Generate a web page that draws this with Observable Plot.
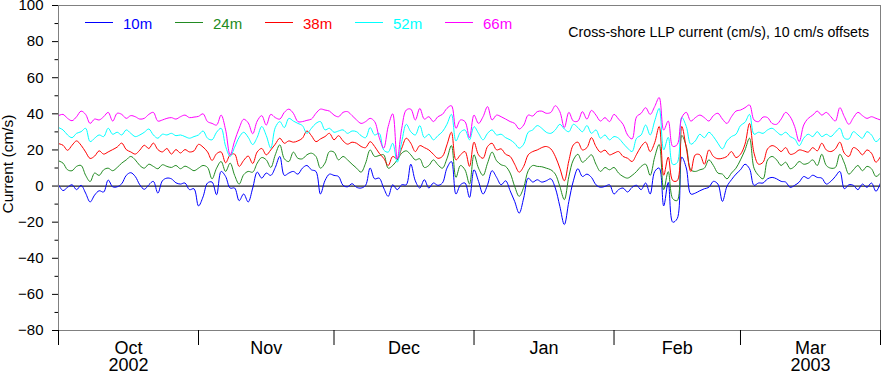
<!DOCTYPE html>
<html>
<head>
<meta charset="utf-8">
<script src="https://cdn.jsdelivr.net/npm/d3@7"></script>
<script src="https://cdn.jsdelivr.net/npm/@observablehq/plot@0.6"></script>
<style>
  body { margin: 0; background: #fff; }
  #chart { position: relative; width: 881px; height: 373px; font-family: "Liberation Sans", Arial, Helvetica, sans-serif; }
  #chart svg { display: block; }
  .overlay { position: absolute; white-space: nowrap; }
</style>
</head>
<body>
<div id="chart"></div>
<script>
// Series (depths) and colours
const depths = ["10m", "24m", "38m", "52m", "66m"];
const colors = ["#0000ff", "#228b22", "#ff0000", "#00ffff", "#ff00ff"];
const title = "Cross-shore LLP current (cm/s), 10 cm/s offsets";
const yLabel = "Current (cm/s)";

// Daily samples starting 1 Oct 2002 (values as plotted, i.e. with the 10 cm/s offsets)
const startDay = "2002-10-01";
const monthStarts = ["2002-10-01", "2002-11-01", "2002-12-01", "2003-01-01", "2003-02-01", "2003-03-01", "2003-04-01"];
const monthLabels = ["Oct\n2002", "Nov", "Dec", "Jan", "Feb", "Mar\n2003"];
const yMajor = [-80, -60, -40, -20, 0, 20, 40, 60, 80, 100];
const yMinor = [-70, -50, -30, -10, 10, 30, 50, 70, 90];

const series10m = [0.7, -2.5, -0.7, 0.7, -2, 0.4, -3.9, -8.8, -5, -2.6, -3.3, 3.3, -0.4, -0.4, 1.3, 5.9, 7.4, 5.3, 0.7, -1.8, 0.7, 2.6, -3.9, 2.9, 4.4, 4, 1.8, 1.1, 1.7, -2, -1.5, -11, -6, 1.7, 2.2, -4.8, 8.1, 5.3, -1.1, -1.1, -8.1, -4.4, -8.8, -1.1, 7.7, 4.4,
  7.2, 5.9, 10.3, 16.4, 5.9, 7.2, 8.1, 6.6, 9.9, 11.4, 9, 8.1, -4.4, 3, 6.6, 5.9, 5.3, 0.4, -0.4, 1.3, -0.7, -1.1, 0.4, 10, 4, 4.4, -1.1, -5.7, 0.7, -2, 0.7, 0.7, 12.1, 2.9, -1.1, 3.5, -1.1, 1.7, 0.4, 1.7, 9.9, 13.6, -4.4, 0.7, 1.7, -6.3,
  9, 2.6, -4.4, 0.7, 8.5, 4.8, 0.7, 2.9, -2.6, -8.5, -15, -6.6, 4.4, 2.2, 3.5, 2.2, 2.9, 4, -1.1, -11.2, -21.3, -8.5, 2.9, 9.6, 5.3, 6.6, 4.8, 0.7, -0.7, -0.2, 0.7, -4.4, -2, -1.1, -3.3, -0.7, 0.4, -2, 1.7, -4.4, 8, 10, -11, 2, -20,
  -18, 16, 10, -4.4, -3.9, -2.6, -1.5, -0.7, 2.6, 1.1, -8.5, -0.2, 3.5, 6.6, 9, 12.1, 9.6, 0.4, 1.7, 1.7, 4, 4.8, 4, 2.6, 2.2, -0.7, 0.4, 2.2, 5.3, 4.2, 6, 4.8, 4.4, 1.1, 2.6, 5.3, 8.1, -1.5, 0.7, 0.4, -2, 1.1, -0.7, 1.7, -2.9, 1.7];

const series24m = [14, 12.7, 9, 8.5, 10.9, 11.4, 6, 2.5, 7.2, 5.9, 9, 9.9, 8.5, 10.3, 12.7, 14.5, 16.4, 14.5, 11.4, 9.9, 12.1, 10.9, 9.6, 11.8, 10.9, 10.3, 11.4, 9.6, 11, 9.9, 8.5, 9.9, 11.4, 10.3, 4, 9.9, 13.6, 8.1, 12.7, 5.9, 1.1, 6.3, 8.1, 7.7, 12.7, 15.8,
  14.5, 10.3, 17.3, 22.8, 15.1, 13.6, 18.8, 15.4, 15.1, 17.3, 18.2, 16.4, 9.9, 12.7, 19.1, 18.8, 14.5, 16.4, 14.5, 12.1, 9.9, 7.7, 12.7, 20, 16.4, 16.9, 17.3, 9.9, 11.4, 14.5, 18.2, 19.5, 17.3, 14.5, 15.1, 10.3, 11.4, 14.5, 11.8, 9.9, 15.1, 22.4, 4.8, 11.4, 9, 1.1,
  17.3, 9.9, 5.9, 12.7, 18.8, 14, 11.8, 10.9, 7.2, -0.2, -5.7, -0.7, 8.5, 11.4, 10.9, 10.7, 9.9, 9, 6.6, -0.2, -7.5, 5.3, 14.5, 17.6, 13.2, 15.1, 17.3, 12.1, 8.1, 10.3, 9, 10.3, 7.2, 5.3, 4.4, 5.9, 8.1, 10.9, 12.1, 5.9, 16, 23, -2, 8, -7,
  -8, 28, 22, 9, 8.1, 9, 9.9, 14.5, 11.4, 7.2, 6.6, 4, 7.2, 9.9, 14.5, 20, 26.5, 9.9, 5.9, 4, 14.5, 16.4, 14.5, 11.4, 13.2, 9.6, 10.9, 13.6, 12.1, 12.7, 14.5, 11.4, 17.6, 11.4, 9.9, 10.3, 17.6, 12.7, 6.6, 9, 11.4, 8.5, 10.9, 9.6, 5.3, 7.2];

const series38m = [23.5, 22.6, 19.8, 22.6, 25, 22.6, 18.9, 15.3, 16.6, 19.5, 17.7, 18.9, 20.2, 21.6, 23.8, 20.2, 18.9, 17.7, 19.9, 22.6, 20.8, 23.8, 20.2, 18.9, 20.8, 17.7, 20.2, 18.3, 20.2, 18.9, 19.5, 23.1, 21.6, 18.9, 14.2, 17.9, 18.9, 12.9, 17.2, 17.7, 10.9, 14.2, 16.6, 12.5, 18.9, 20.8,
  17.3, 20, 23.2, 26.5, 23.7, 25, 24.3, 25, 26.5, 30.5, 27.9, 24.6, 26.1, 27.4, 29.2, 25.6, 27.9, 25, 23.2, 24.3, 23.7, 21.9, 21.3, 24.6, 21.9, 18.2, 15.4, 11.4, 16.4, 15.1, 21, 26.5, 23.7, 19.1, 22.4, 21.3, 20, 17.6, 15.4, 16.4, 22.8, 29.8, 14.5, 17.3, 19.1, 10.9,
  24.3, 17.3, 15.4, 21.9, 23.7, 20, 20.6, 17.6, 16.4, 12.1, 7.7, 10.9, 17.3, 19.1, 20, 21.3, 21.9, 20.6, 16.4, 9.9, 2.9, 14, 22.8, 24.3, 20, 21.3, 26.8, 21.9, 18.8, 19.9, 17.3, 18.2, 19.1, 16.4, 15.4, 13.6, 17.6, 21.9, 24.3, 19.1, 24, 33, 6, 16, 3,
  3, 33, 21, 8.1, 17.3, 17.3, 12.1, 20, 16.4, 15.1, 15.4, 16.4, 19.1, 15.8, 17.6, 23.2, 34.7, 18.2, 12.1, 13.2, 20.6, 22.4, 21.3, 19.1, 21.3, 17.6, 18.2, 20, 19.5, 18.8, 21.3, 19.5, 23.7, 20, 19.1, 20.6, 24.3, 18.2, 16.4, 21.3, 20, 17.3, 20, 18.2, 13.2, 16.4];

const series52m = [32.4, 31.1, 28.3, 26.8, 29.2, 30.1, 32, 24.6, 26.5, 28.3, 27.4, 32, 28.7, 29.8, 28.3, 31.1, 29.2, 27.4, 28.3, 29.8, 31.6, 28.3, 26.5, 28.7, 28.3, 29.2, 27.9, 28.3, 27.4, 26.5, 27.4, 28.3, 30.5, 26.5, 25.6, 29.8, 32, 22, 16.4, 21.5, 27, 29.8, 27, 23, 27, 33,
  28, 21, 32.4, 35.7, 32.4, 37.5, 36, 34.7, 33.5, 29.2, 32, 34.7, 35.7, 31.1, 32, 29.8, 30.5, 31.1, 29.2, 30.5, 30.1, 27.9, 26.8, 32.4, 28.3, 29.2, 20, 18.8, 23.7, 13.2, 24.6, 34.2, 30.1, 28.3, 33.5, 26.8, 28.7, 25.6, 27.9, 30.1, 34.2, 39.7, 25, 29.8, 31.1, 25.6,
  32.9, 29.2, 25.6, 29.2, 31.1, 28.3, 28.7, 26.8, 25.6, 23.7, 21, 23.2, 29.8, 31.1, 33.5, 32, 29.8, 29.2, 31.1, 34.2, 31.6, 30.1, 34.2, 32.4, 30.1, 33.5, 29.2, 31.1, 26.5, 28.3, 25.6, 27.4, 26.5, 23.7, 21, 19.1, 26.5, 28.3, 33.8, 28.3, 36, 43, 20, 27, 12,
  13, 38, 33, 23.2, 25, 28.7, 26.8, 29.8, 27.4, 23.7, 20.6, 25, 27.4, 28.7, 33.5, 35.3, 39.7, 28.7, 29.8, 29.2, 31.1, 32, 30.1, 28.3, 29.8, 27.4, 26.1, 22.4, 26.5, 28.7, 27.4, 30.1, 27.4, 28.7, 27.4, 29.8, 32, 26.5, 26.1, 30.1, 28.3, 26.5, 30.1, 28.3, 24.6, 26.8];

const series66m = [39, 39.7, 37.5, 36.2, 38.4, 41.5, 39.7, 34.7, 37.1, 36.6, 38.4, 40.8, 36, 40.3, 39.7, 37.5, 39, 38.4, 37.1, 37.5, 39.7, 40.8, 36, 36.6, 37.5, 37.9, 37.1, 38.4, 39.3, 37.9, 38.2, 38.6, 40, 35.7, 34.7, 33.8, 39.3, 31.1, 17.3, 25, 32, 37, 35, 29, 36, 39,
  33.8, 39.7, 37.9, 37.1, 40.8, 42.6, 40.3, 35.7, 35.7, 36.4, 37.1, 40.3, 42.6, 42.1, 41.5, 39.3, 38.4, 40.8, 41.2, 39, 36.6, 34.7, 35.7, 37.5, 35.7, 27, 21, 33, 40, 15, 32, 42.1, 42.6, 36.6, 43, 37.1, 38.4, 35.7, 38.4, 39.7, 43, 44.5, 32, 36.6, 35.7, 26.8,
  39.3, 34.7, 38.4, 44, 36.6, 39.3, 38.4, 37.1, 35.7, 34.7, 31.6, 33.8, 39.3, 38.8, 41.2, 41.5, 40.3, 40.8, 44.5, 41.2, 32.4, 40.8, 36, 36, 41.2, 37.1, 41.9, 39.3, 36, 37.9, 35.7, 39.7, 37.1, 34.2, 28.3, 26.1, 38.4, 40.3, 43.4, 39.7, 44, 49, 31, 36, 22,
  23, 38, 40.8, 36, 37.9, 39.3, 37.9, 36, 39, 40.3, 37.1, 34.7, 38.4, 41.5, 42.1, 43.4, 44.9, 36.6, 35.7, 38.2, 37.9, 34.7, 34.2, 37.1, 40.8, 38.4, 32.9, 24.6, 33.8, 37.5, 39.3, 41.5, 39.3, 40.8, 38.4, 36, 43.4, 38.4, 34.2, 37.9, 40.8, 39, 37.5, 38.4, 37.5, 36.6];

const seriesValues = [series10m, series24m, series38m, series52m, series66m];

const DAY = 86400000;
const t0 = new Date(startDay + "T00:00:00Z").getTime();
const data = depths.flatMap((depth, k) =>
  seriesValues[k].map((v, i) => ({ date: new Date(t0 + i * DAY), value: v, depth }))
);

const starts = monthStarts.map(s => new Date(s + "T00:00:00Z"));
const mids = starts.slice(0, -1).map((d, i) => new Date((d.getTime() + starts[i + 1].getTime()) / 2));
const labelByTime = new Map(mids.map((d, i) => [d.getTime(), monthLabels[i]]));

const font = '"Liberation Sans", Arial, Helvetica, sans-serif';

const plot = Plot.plot({
  width: 881,
  height: 373,
  marginLeft: 58,
  marginRight: 1,
  marginTop: 5,
  marginBottom: 43,
  style: { fontFamily: font, fontSize: "15px", color: "black", background: "white", overflow: "visible" },
  x: { type: "utc", domain: [starts[0], starts[starts.length - 1]] },
  y: { domain: [-80, 100] },
  color: { domain: depths, range: colors },
  marks: [
    Plot.ruleY([0], { stroke: "#222", strokeWidth: 1.2 }),
    Plot.line(data, { x: "date", y: "value", z: "depth", stroke: "depth", strokeWidth: 1, curve: "catmull-rom" }),
    Plot.frame({ stroke: "#808080" }),
    Plot.axisY({ ticks: yMajor, tickSize: 6, tickPadding: 9, fontSize: 15, label: null }),
    Plot.axisY({ ticks: yMinor, tickSize: 3.5, tickFormat: () => "", label: null }),
    Plot.axisX({ ticks: starts, tickSize: 15, tickFormat: () => "", label: null }),
    Plot.axisX({ ticks: mids, tickSize: 0, tickPadding: 11, fontSize: 18, lineHeight: 0.97, tickFormat: d => labelByTime.get(d.getTime()), label: null })
  ]
});

const chart = document.getElementById("chart");
chart.appendChild(plot);

// Y axis title (rotated)
const yl = document.createElement("div");
yl.className = "overlay";
Object.assign(yl.style, { left: "8px", top: "164px", fontSize: "15.5px", lineHeight: "16px", color: "black", fontFamily: font, transform: "translate(-50%, -50%) rotate(-90deg)" });
yl.textContent = yLabel;
chart.appendChild(yl);

// Legend (inside the plot frame, top left)
depths.forEach((depth, k) => {
  const line = document.createElement("div");
  line.className = "overlay";
  Object.assign(line.style, { left: (85 + 90 * k) + "px", top: "22px", width: "28px", height: "1.2px", background: colors[k] });
  chart.appendChild(line);
  const lab = document.createElement("div");
  lab.className = "overlay";
  Object.assign(lab.style, { left: (123 + 90 * k) + "px", top: "15px", fontSize: "15px", lineHeight: "18px", color: colors[k], fontFamily: font });
  lab.textContent = depth;
  chart.appendChild(lab);
});

// Title (top right, inside frame)
const t = document.createElement("div");
t.className = "overlay";
Object.assign(t.style, { right: "12px", top: "24px", fontSize: "14.2px", lineHeight: "17px", color: "black", fontFamily: font });
t.textContent = title;
chart.appendChild(t);
</script>
</body>
</html>
